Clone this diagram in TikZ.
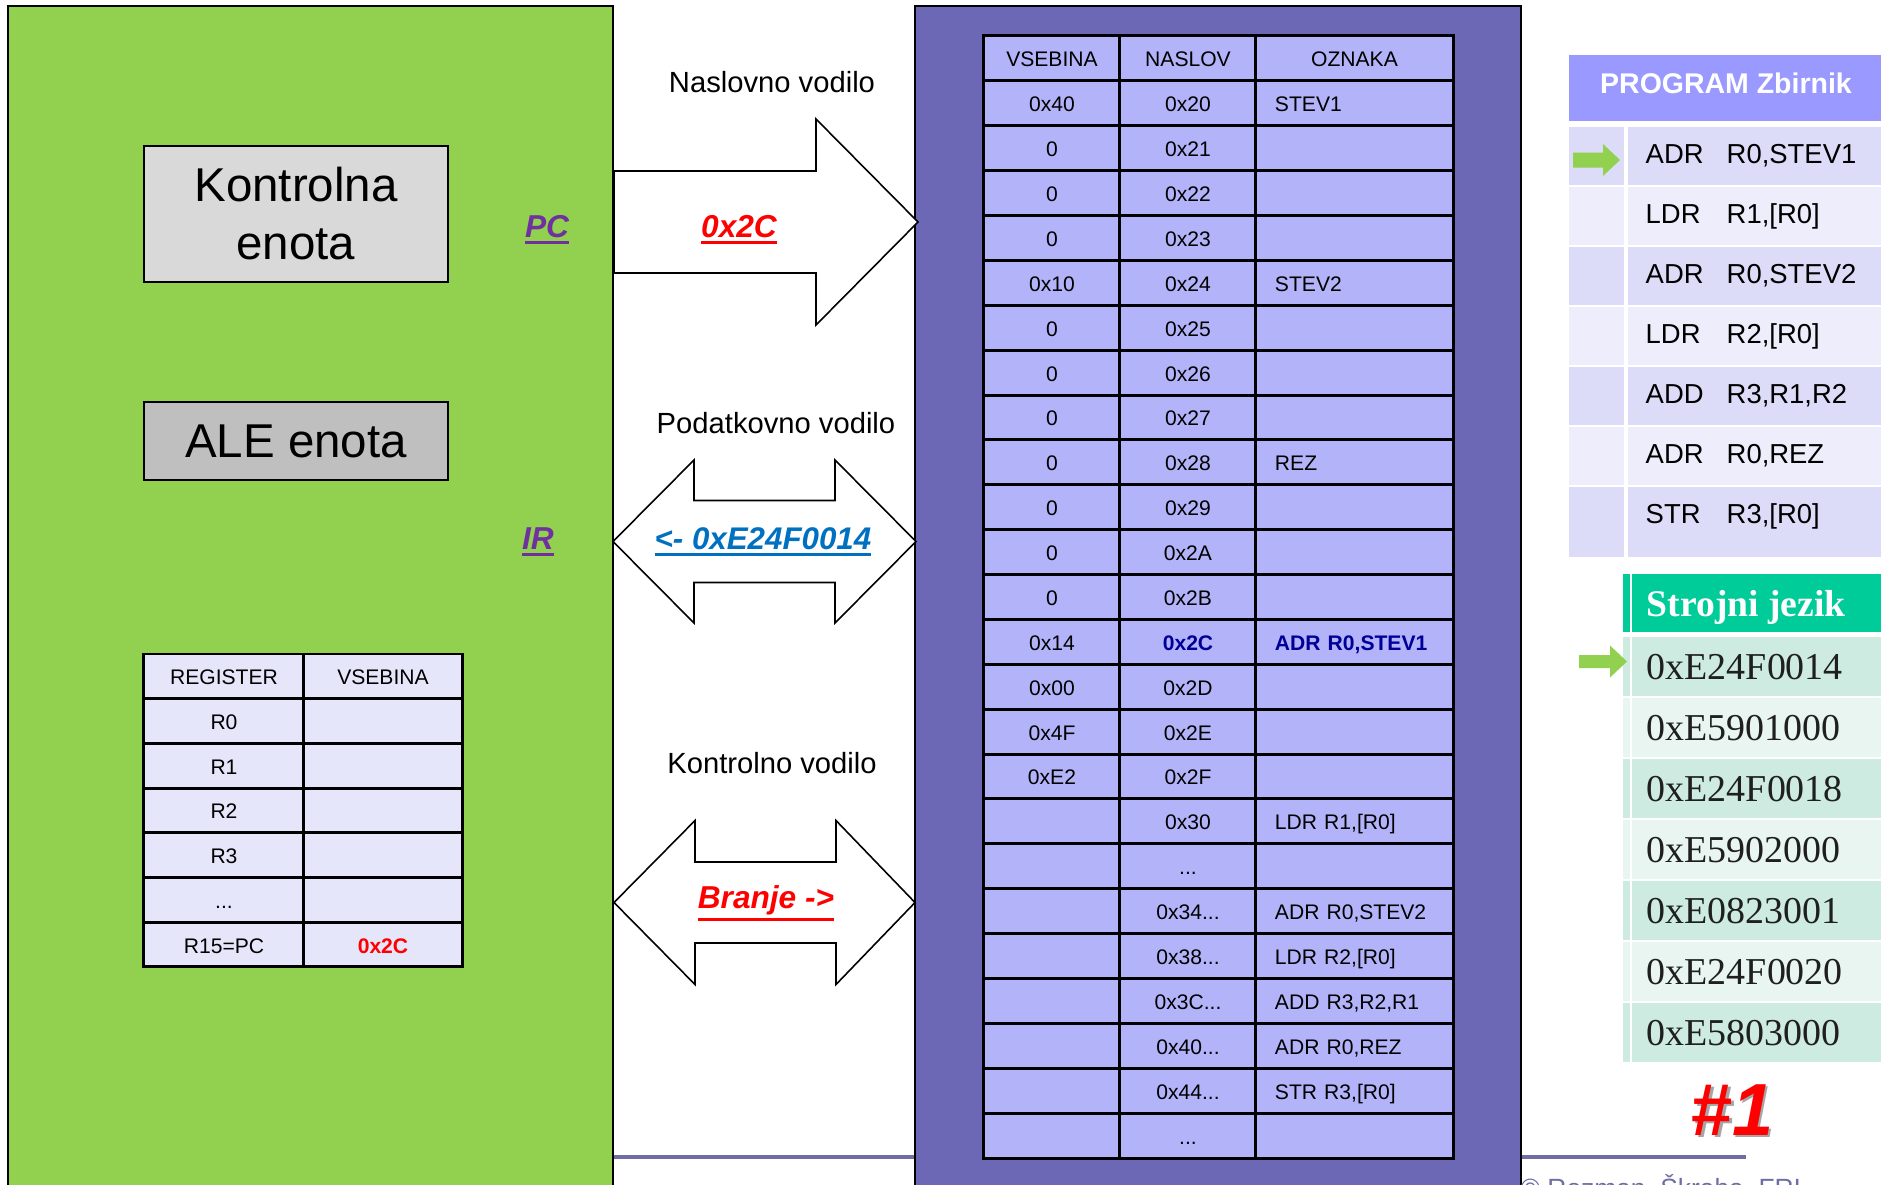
\documentclass[tikz,border=0pt]{standalone}
\usepackage{fontspec}
\setmainfont{Liberation Sans}
\newfontfamily\timesf{Liberation Serif}
\usetikzlibrary{positioning}

\definecolor{cpugreen}{RGB}{146,208,80}
\definecolor{mempurple}{RGB}{108,104,181}
\definecolor{memfill}{RGB}{179,179,250}
\definecolor{regfill}{RGB}{230,230,250}
\definecolor{ctrlgray}{RGB}{217,217,217}
\definecolor{alegray}{RGB}{191,191,191}
\definecolor{pcpurple}{RGB}{112,48,160}
\definecolor{irblue}{RGB}{0,112,192}
\definecolor{navy}{RGB}{0,0,153}
\definecolor{zbhead}{RGB}{153,153,255}
\definecolor{zbdark}{RGB}{220,220,248}
\definecolor{zblight}{RGB}{237,237,251}
\definecolor{sjhead}{RGB}{0,204,153}
\definecolor{sjdark}{RGB}{205,235,224}
\definecolor{sjlight}{RGB}{232,245,240}
\definecolor{footline}{RGB}{110,110,165}

\newcommand\thickul[1]{\leavevmode\vtop{\hbox{#1}\kern1pt\hrule height 0.9pt}}
\newcommand\tdots{...}

\begin{document}
\begin{tikzpicture}[
    x=0.01cm, y=-0.01cm,
    panel/.style={draw=black, line width=0.5pt},
    unit/.style={draw=black, line width=0.6pt, minimum width=3.04cm, align=center, inner sep=0pt, font=\fontsize{13.5}{16.5}\selectfont},
    bus/.style={draw=black, fill=white, line width=0.45pt},
    busname/.style={anchor=base, inner sep=0pt, font=\fontsize{8.3}{10}\selectfont},
    buscode/.style={anchor=base, inner sep=0pt, font=\fontsize{9}{11}\selectfont\bfseries\itshape},
    regname/.style={buscode, text=pcpurple},
    cell/.style={draw=black, line width=0.85pt, inner sep=0pt, text height=5.4pt, text depth=0.6pt, font=\fontsize{6}{7.2}\selectfont},
    mcell/.style={cell, fill=memfill, minimum height=0.4488cm},
    rcell/.style={cell, fill=regfill, minimum height=0.447cm},
    zbtext/.style={anchor=base west, inner sep=0pt, font=\fontsize{7.8}{9.4}\selectfont},
    sjtext/.style={anchor=base west, inner sep=0pt, font=\timesf\fontsize{10.8}{13}\selectfont, text=black!88},
    ptr/.style={fill=cpugreen},
  ]
  \useasboundingbox (0,0) rectangle (1881,1184);
  \fill[white] (0,0) rectangle (1881,1184);
  \draw[footline, line width=0.9pt] (613,1157) -- (1746,1157);
  % CPU and memory
  \draw[panel, fill=cpugreen] (8,6) rectangle (613,1210);
  \draw[panel, fill=mempurple, line width=0.6pt] (915,6) rectangle (1521,1210);
  \node[unit, fill=ctrlgray, minimum height=1.36cm] (ke) at (296,214) {Kontrolna\\enota};
  \node[unit, fill=alegray, minimum height=0.78cm] (ale) at (296,441) {ALE enota};
  \node[regname] (pc) at (547,237) {\thickul{PC}};
  \node[regname] (ir) at (538,549) {\thickul{IR}};
  % Buses
  \draw[bus] (614,171) -- (816,171) -- (816,119) -- (918,222) -- (816,325) -- (816,273) -- (614,273) -- cycle;
  \draw[bus] (613,541.5) -- (694,460) -- (694,500.5) -- (835,500.5) -- (835,460) -- (916,541.5)
    -- (835,623) -- (835,582.5) -- (694,582.5) -- (694,623) -- cycle;
  \draw[bus] (614,902.5) -- (695,820.5) -- (695,862) -- (836,862) -- (836,820.5) -- (915,902.5)
    -- (836,984.5) -- (836,943) -- (695,943) -- (695,984.5) -- cycle;
  \node[busname] (nv) at (772,92) {Naslovno vodilo};
  \node[busname] (pv) at (776,433) {Podatkovno vodilo};
  \node[busname] (kv) at (772,773) {Kontrolno vodilo};
  \node[buscode, text=red] (adr) at (739,237) {\thickul{0x2C}};
  \node[buscode, text=irblue, font=\fontsize{8.9}{10.5}\selectfont\bfseries\itshape] (dat) at (763,549) {\thickul{<- 0xE24F0014}};
  \node[buscode, text=red] (rd) at (766,908) {\thickul{Branje ->}};
  % Register table
  \foreach \r/\rc [count=\i from 0] in {REGISTER/VSEBINA, R0/{}, R1/{}, R2/{}, R3/{}, \tdots/{}, R15=PC/{\textcolor{red}{\bfseries 0x2C}}}
  {
    \node[rcell, minimum width=1.60cm] (rr\i) at (224,{676.35+44.7*\i}) {\r};
    \node[rcell, minimum width=1.58cm] (rv\i) at (383,{676.35+44.7*\i}) {\rc};
  }
  % Memory table
  \node[mcell, minimum width=1.36cm] (mh1) at (1052,58.44) {VSEBINA};
  \node[mcell, minimum width=1.36cm] (mh2) at (1188,58.44) {NASLOV};
  \node[mcell, minimum width=1.97cm] (mh3) at (1354.5,58.44) {OZNAKA};
  \foreach \v/\n/\o [count=\i] in {0x40/0x20/STEV1, 0/0x21/{}, 0/0x22/{}, 0/0x23/{},
      0x10/0x24/STEV2, 0/0x25/{}, 0/0x26/{}, 0/0x27/{}, 0/0x28/REZ, 0/0x29/{}, 0/0x2A/{}, 0/0x2B/{},
      0x14/{\textcolor{navy}{\bfseries 0x2C}}/{\textcolor{navy}{\bfseries ADR R0,STEV1}},
      0x00/0x2D/{}, 0x4F/0x2E/{}, 0xE2/0x2F/{}, {}/0x30/{LDR R1,[R0]}, {}/\tdots/{},
      {}/0x34\tdots/{ADR R0,STEV2}, {}/0x38\tdots/{LDR R2,[R0]}, {}/0x3C\tdots/{ADD R3,R2,R1},
      {}/0x40\tdots/{ADR R0,REZ}, {}/0x44\tdots/{STR R3,[R0]}, {}/\tdots/{}}
  {
    \node[mcell, minimum width=1.36cm] (mv\i) at (1052,{58.44+44.88*\i}) {\v};
    \node[mcell, minimum width=1.36cm] (mn\i) at (1188,{58.44+44.88*\i}) {\n};
    \node[mcell, minimum width=1.97cm, text width=1.59cm, align=left] (mo\i) at (1354.5,{58.44+44.88*\i}) {\o};
  }
  % Program (zbirnik)
  \fill[zbhead] (1569,55) rectangle (1890,121);
  \node[anchor=base, inner sep=0pt, text=white, font=\fontsize{8.1}{9.7}\selectfont\bfseries] (zbt) at (1726,93) {PROGRAM Zbirnik};
  \foreach \rowc/\zmn/\zop [count=\i from 0] in {zbdark/ADR/{R0,STEV1}, zblight/LDR/{R1,[R0]}, zbdark/ADR/{R0,STEV2},
      zblight/LDR/{R2,[R0]}, zbdark/ADD/{R3,R1,R2}, zblight/ADR/{R0,REZ}, zbdark/STR/{R3,[R0]}}
  {
    \fill[\rowc] (1569,{127+60*\i}) rectangle (1624,{185+60*\i});
    \fill[\rowc] (1628,{127+60*\i}) rectangle (1890,{185+60*\i});
    \node[zbtext] (zm\i) at (1645,{163+60*\i}) {\zmn};
    \node[zbtext] (zo\i) at (1726,{163+60*\i}) {\zop};
  }
  \fill[zbdark] (1569,545) rectangle (1624,557);
  \fill[zbdark] (1628,545) rectangle (1890,557);
  \fill[ptr] (1573,152.5) -- (1603,152.5) -- (1603,144) -- (1620,160) -- (1603,176) -- (1603,167.5) -- (1573,167.5) -- cycle;
  % Machine code (strojni jezik)
  \fill[sjhead] (1623,574) rectangle (1890,632);
  \node[anchor=base west, inner sep=0pt, text=white, font=\timesf\fontsize{10.7}{12.8}\selectfont\bfseries] (sjt) at (1646,616) {Strojni jezik};
  \foreach \rowc/\code [count=\i from 0] in {sjdark/0xE24F0014, sjlight/0xE5901000, sjdark/0xE24F0018,
      sjlight/0xE5902000, sjdark/0xE0823001, sjlight/0xE24F0020, sjdark/0xE5803000}
  {
    \fill[\rowc] (1623,{637+61*\i}) rectangle (1890,{635+61*(\i+1)});
    \node[sjtext] (sj\i) at (1646,{679+61*\i}) {\code};
  }
  \draw[white, line width=0.6pt] (1631,574) -- (1631,1062);
  \fill[ptr] (1579,655) -- (1610,655) -- (1610,645.5) -- (1627,661.5) -- (1610,677.5) -- (1610,668) -- (1579,668) -- cycle;
  % Slide number
  \node[anchor=base, inner sep=0pt, text=black!35, font=\fontsize{21}{25}\selectfont\bfseries\itshape] (nums) at (1734.5,1137.5) {\#1};
  \node[anchor=base, inner sep=0pt, text=red, font=\fontsize{21}{25}\selectfont\bfseries\itshape] (num) at (1732,1135) {\#1};
  \node[anchor=base west, inner sep=0pt, text=footline, font=\fontsize{7.5}{9}\selectfont] (copy) at (1520,1197) {© Rozman, Škraba, FRI};
\end{tikzpicture}
\end{document}
